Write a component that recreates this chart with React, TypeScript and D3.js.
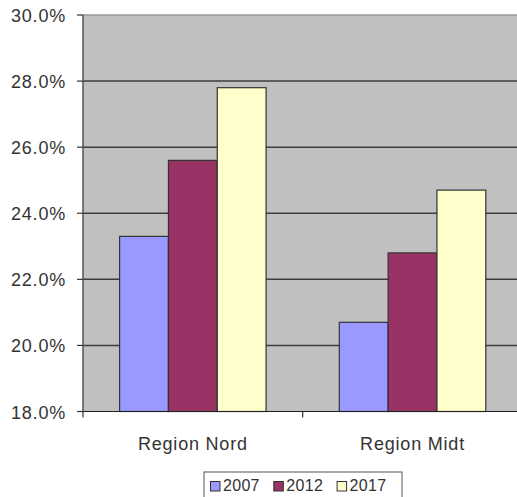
import React from "react";
import * as d3 from "d3";

const categories = ["Region Nord", "Region Midt"];
const seriesNames = ["2007", "2012", "2017"];
const values2007 = [0.233, 0.207];
const values2012 = [0.256, 0.228];
const values2017 = [0.278, 0.247];
const yTicks = [0.18, 0.2, 0.22, 0.24, 0.26, 0.28, 0.3];
const colors = ["#9999ff", "#993366", "#ffffcc"];

const W = 517;
const H = 497;
const left = 83;
const top = 15;
const bottom = 411.5;
const catWidth = 219.7;

export default function App() {
  const seriesValues = [values2007, values2012, values2017];
  const x0 = d3
    .scaleBand<string>()
    .domain(categories)
    .range([left, left + catWidth * categories.length])
    .padding(0);
  const x1 = d3
    .scaleBand<string>()
    .domain(seriesNames)
    .range([0, x0.bandwidth()])
    .paddingInner(0)
    .paddingOuter(0.75);
  const y = d3.scaleLinear().domain([0.18, 0.3]).range([bottom, top]);
  const fmt = d3.format(".1%");
  const font = "'Liberation Sans', Arial, sans-serif";
  const textColor = "#333";

  return (
    <svg
      width={W}
      height={H}
      style={{ position: "absolute", left: 0, top: 0 }}
      fontFamily={font}
    >
      <rect x={0} y={0} width={W} height={H} fill="#fff" />
      {/* plot area */}
      <rect x={left} y={top} width={W - left + 10} height={bottom - top} fill="#c0c0c0" />
      <line x1={left} x2={W} y1={top} y2={top} stroke="#9a9a9a" strokeWidth={1.5} />
      {/* gridlines */}
      {yTicks
        .filter((t) => t > 0.18 && t < 0.3)
        .map((t) => (
          <line
            key={t}
            x1={left}
            x2={W}
            y1={y(t)}
            y2={y(t)}
            stroke="#3c3c3c"
            strokeWidth={1.5}
          />
        ))}
      {/* bars */}
      {categories.map((c, ci) =>
        seriesNames.map((s, si) => {
          const v = seriesValues[si][ci];
          const bx = (x0(c) as number) + (x1(s) as number);
          return (
            <rect
              key={c + s}
              x={bx}
              y={y(v)}
              width={x1.bandwidth()}
              height={bottom - y(v)}
              fill={colors[si]}
              stroke="#333"
              strokeWidth={1.2}
            />
          );
        })
      )}
      {/* y axis */}
      <line x1={left} x2={left} y1={top} y2={bottom} stroke="#555" strokeWidth={1.5} />
      {yTicks.map((t) => (
        <g key={"yt" + t}>
          <line x1={left - 6} x2={left} y1={y(t)} y2={y(t)} stroke="#333" strokeWidth={1.2} />
          <text
            x={66}
            y={y(t) + 7}
            textAnchor="end"
            fontSize={18}
            letterSpacing={0.8}
            fill={textColor}
          >
            {fmt(t)}
          </text>
        </g>
      ))}
      {/* x axis */}
      <line x1={left} x2={W} y1={bottom} y2={bottom} stroke="#222" strokeWidth={1.2} />
      {categories.map((c, i) => (
        <line
          key={"xt" + c}
          x1={left + catWidth * i}
          x2={left + catWidth * i}
          y1={bottom}
          y2={bottom + 6}
          stroke="#333"
          strokeWidth={1.2}
        />
      ))}
      {categories.map((c) => (
        <text
          key={"xl" + c}
          x={(x0(c) as number) + x0.bandwidth() / 2}
          y={450}
          textAnchor="middle"
          fontSize={18}
          letterSpacing={0.8}
          fill={textColor}
        >
          {c}
        </text>
      ))}
      {/* legend */}
      <rect x={204} y={472} width={198} height={30} fill="#fff" stroke="#555" strokeWidth={1} />
      {seriesNames.map((s, i) => (
        <g key={"lg" + s} transform={`translate(${210.5 + i * 63.3},0)`}>
          <rect x={0} y={481.5} width={9.5} height={9.5} fill={colors[i]} stroke="#333" strokeWidth={1} />
          <text x={12.5} y={491} fontSize={16} letterSpacing={0.3} fill={textColor}>
            {s}
          </text>
        </g>
      ))}
    </svg>
  );
}
